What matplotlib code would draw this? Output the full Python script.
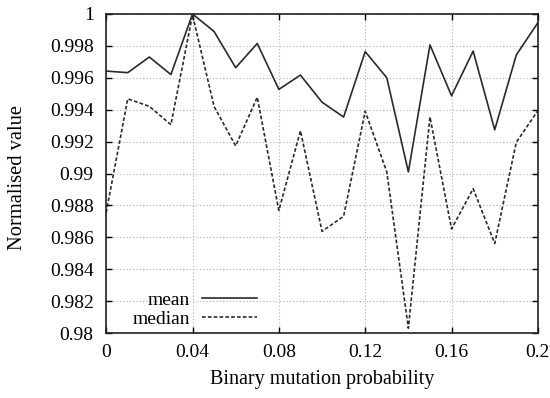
import matplotlib
matplotlib.use("Agg")
import matplotlib.pyplot as plt
import numpy as np

prob = [0.00, 0.01, 0.02, 0.03, 0.04, 0.05, 0.06, 0.07, 0.08, 0.09, 0.10,
        0.11, 0.12, 0.13, 0.14, 0.15, 0.16, 0.17, 0.18, 0.19, 0.20]
mean = [0.99642, 0.99632, 0.9973, 0.9962, 1.0, 0.9989, 0.99663, 0.99815, 0.99527, 0.99617, 0.99447,
        0.99354, 0.99764, 0.9960, 0.9901, 0.99806, 0.99487, 0.99767, 0.99274, 0.99743, 0.99945]
median = [0.98755, 0.99468, 0.99421, 0.99306, 0.99994, 0.9942, 0.99173, 0.99478, 0.98768, 0.99268, 0.98638,
          0.98732, 0.9939, 0.9901, 0.98031, 0.99354, 0.98653, 0.98905, 0.98562, 0.99196, 0.99394]
xticks = [0, 0.04, 0.08, 0.12, 0.16, 0.2]
xticklabels = ["0", "0.04", "0.08", "0.12", "0.16", "0.2"]
yticks = [0.98, 0.982, 0.984, 0.986, 0.988, 0.99, 0.992, 0.994, 0.996, 0.998, 1.0]
yticklabels = ["0.98", "0.982", "0.984", "0.986", "0.988", "0.99", "0.992", "0.994", "0.996", "0.998", "1"]

plt.rcParams['font.family'] = ['Liberation Serif', 'DejaVu Serif']
fig = plt.figure(figsize=(5.5, 3.98), dpi=100)
ax = fig.add_axes([0.193, 0.163, 0.785, 0.802])

ax.plot(prob, mean, color='#2a2a2a', lw=1.2, label='mean')
ax.plot(prob, median, color='#2a2a2a', lw=1.2, ls=(0, (2.2, 1.3)), label='median')

ax.set_xlim(0, 0.2)
ax.set_ylim(0.98, 1.0)
ax.set_xticks(xticks)
ax.set_xticklabels(xticklabels)
ax.set_yticks(yticks)
ax.set_yticklabels(yticklabels)
ax.tick_params(direction='in', top=True, right=True, labelsize=14, length=4, width=1)
ax.tick_params(axis='x', pad=8)
ax.tick_params(axis='y', pad=9)
ax.grid(True, color='#b0b0b0', ls=(0, (1, 2)), lw=0.8)
for s in ax.spines.values():
    s.set_linewidth(1.2)
    s.set_color('#222222')

ax.set_xlabel('Binary mutation probability', fontsize=14.5, labelpad=6)
ax.set_ylabel('Normalised value', fontsize=14.8)
ax.yaxis.set_label_coords(-0.183, 0.486)

leg = ax.legend(loc='lower left', bbox_to_anchor=(0.034, -0.02), frameon=False, markerfirst=False,
                fontsize=14, handlelength=2.83, handletextpad=0.6, labelspacing=0.05,
                borderaxespad=0.2)
for t in leg.get_texts():
    t.set_ha('right')

fig.savefig('out.png', dpi=100)
